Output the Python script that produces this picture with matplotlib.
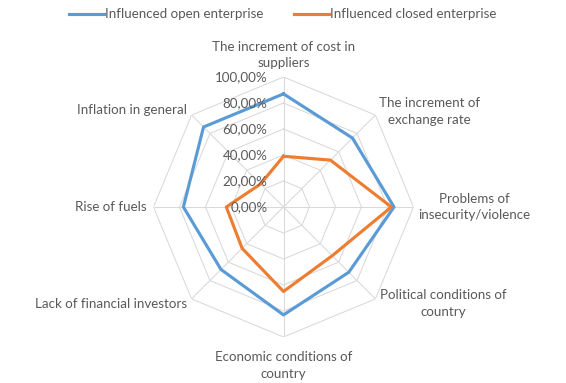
import numpy as np
import matplotlib
matplotlib.use("Agg")
import matplotlib.pyplot as plt
from matplotlib.transforms import offset_copy

categories = ["The increment of cost in\nsuppliers",
              "The increment of\nexchange rate",
              "Problems of\ninsecurity/violence",
              "Political conditions of\ncountry",
              "Economic conditions of\ncountry",
              "Lack of financial investors",
              "Rise of fuels",
              "Inflation in general"]
open_vals = [0.87, 0.75, 0.85, 0.71, 0.83, 0.68, 0.77, 0.87]
closed_vals = [0.39, 0.51, 0.83, 0.53, 0.65, 0.45, 0.44, 0.25]
ticks = [0.0, 0.2, 0.4, 0.6, 0.8, 1.0]
tick_labels = ["0,00%", "20,00%", "40,00%", "60,00%", "80,00%", "100,00%"]

plt.rcParams['font.family'] = ['Lato', 'DejaVu Sans']
txt = '#595959'
fs = 9.6

fig = plt.figure(figsize=(5.66, 3.83), dpi=100)
ax = fig.add_axes([0.2712, 0.1201, 0.4594, 0.6789], projection='polar')
ax.set_theta_offset(np.pi / 2)
ax.set_theta_direction(-1)
ax.set_ylim(0, 1)
ax.grid(False)
ax.spines['polar'].set_visible(False)
ax.set_xticks([])
ax.set_yticks([])
ax.patch.set_alpha(0)

n = len(categories)
ang = np.arange(n) * 2 * np.pi / n
ang_c = np.append(ang, ang[0])

# octagon grid and spokes
for t in ticks[1:]:
    ax.plot(ang_c, [t] * (n + 1), color='#D9D9D9', lw=0.75, zorder=1)
for a in ang:
    ax.plot([a, a], [0, 1], color='#D9D9D9', lw=0.75, zorder=1)

ax.plot(ang_c, open_vals + open_vals[:1], color='#5B9BD5', lw=2.25,
        label='Influenced open enterprise', zorder=3)
ax.plot(ang_c, closed_vals + closed_vals[:1], color='#ED7D31', lw=2.25,
        label='Influenced closed enterprise', zorder=3)

# radial tick labels
tr = offset_copy(ax.transData, fig=fig, x=-16, y=0, units='dots')
for t, lab in zip(ticks, tick_labels):
    ax.text(0, t, lab, transform=tr, ha='right', va='center',
            fontsize=fs, color=txt, zorder=4)

# category labels
pos = [(1.06, 'center', 'bottom'), (1.04, 'left', 'center'),
       (1.04, 'left', 'center'), (1.05, 'left', 'center'),
       (1.11, 'center', 'top'), (1.05, 'right', 'center'),
       (1.05, 'right', 'center'), (1.05, 'right', 'center')]
for a, lab, (r, ha, va) in zip(ang, categories, pos):
    ax.text(a, r, lab, ha=ha, va=va, fontsize=fs, color=txt,
            multialignment='center', linespacing=1.45)

fig.legend(loc='upper center', bbox_to_anchor=(0.5, 1.01), ncol=2,
           frameon=False, fontsize=fs, labelcolor=txt, handlelength=2.6,
           handletextpad=0.1, columnspacing=2.3)

fig.savefig('out.png', dpi=100)
